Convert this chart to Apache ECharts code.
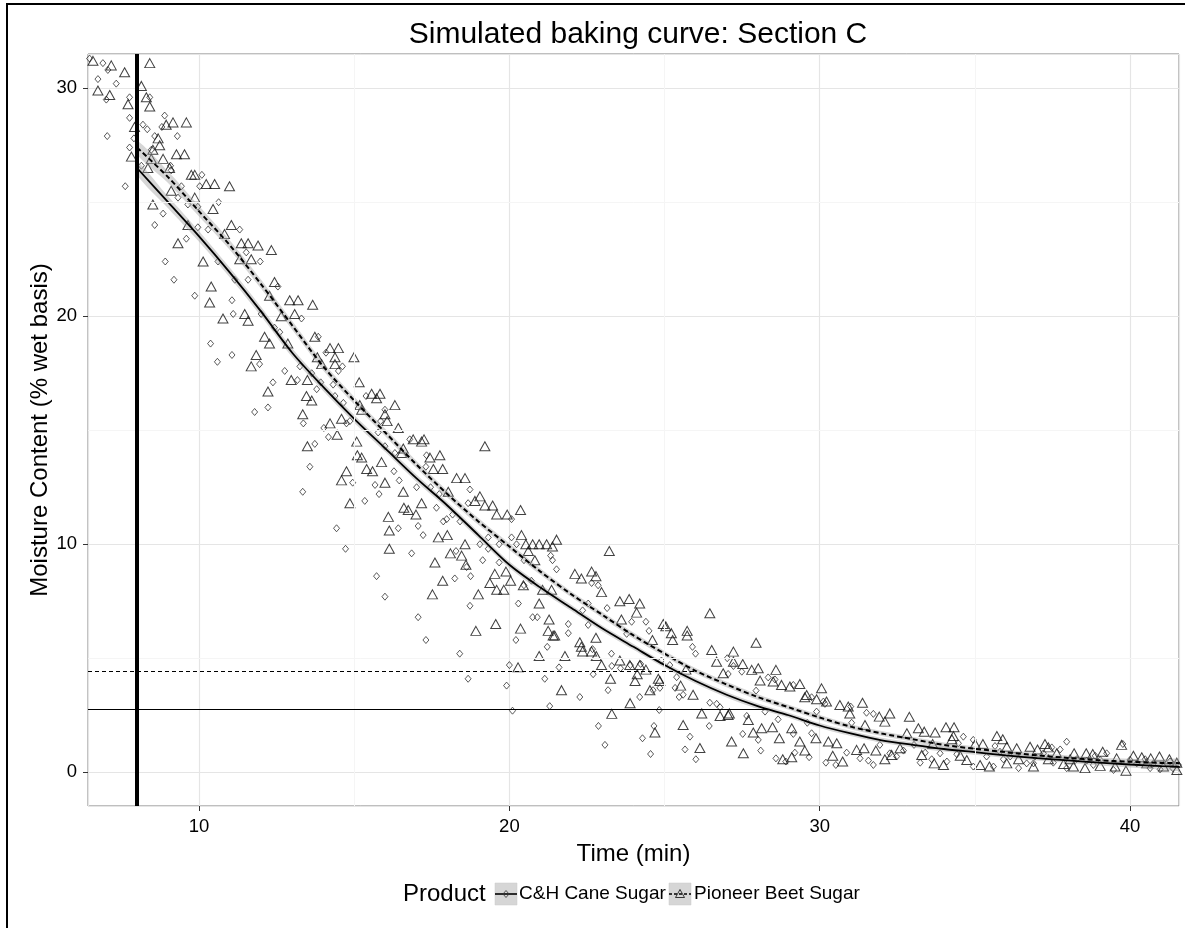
<!DOCTYPE html>
<html>
<head>
<meta charset="utf-8">
<script src="https://cdn.jsdelivr.net/npm/echarts@6/dist/echarts.min.js"></script>
<style>
  html, body { margin: 0; padding: 0; background: #fff; }
  #chart { width: 1185px; height: 928px; }
</style>
</head>
<body>
<div id="chart"></div>
<script>
// point readings, [time (min), moisture (% wet basis)]
const canePoints = [
  [6.47,31.3],[6.9,31.1],[7.06,30.8],[7.33,30.2],[6.74,30.4],[7.01,29.5],[7.76,29.6],[7.76,28.7],[7.04,27.9],[7.76,27.4],
  [7.62,25.7],[7.9,27.8],[8.19,28.4],[8.33,28.2],[8.41,29.6],[8.89,28.8],[8.8,28.3],[9.3,27.9],[8.57,27.9],[8.14,26.6],
  [8.46,27.3],[9.08,26.6],[9.1,26.4],[9.43,25.7],[10.09,26.2],[10.02,25.7],[9.32,25.2],[9.64,24.9],[9.96,24.8],[10.63,25.0],
  [8.84,24.5],[8.57,24.0],[8.91,22.4],[9.19,21.6],[9.86,20.9],[9.59,23.4],[9.96,23.9],[10.29,23.8],[11.31,23.8],[11.52,22.8],
  [11.97,22.4],[10.61,22.4],[11.15,21.6],[11.58,21.6],[12.54,21.3],[11.06,20.7],[11.1,20.1],[12.0,20.1],[12.43,19.5],[12.6,19.3],
  [10.37,18.8],[10.59,18.0],[11.06,18.3],[11.95,17.9],[12.76,17.6],[13.17,17.2],[12.38,17.1],[11.79,15.8],[12.22,16.0],
  [13.3,19.9],[13.84,19.1],[14.09,18.4],[14.49,17.6],[14.62,17.8],[13.63,17.5],[13.79,16.8],[13.25,17.8],[14.32,17.0],[13.92,17.1],
  [14.65,16.2],[14.38,16.5],[14.75,15.3],[14.86,15.4],[13.36,15.3],[14.02,15.1],[14.17,14.7],[13.73,14.4],[13.57,13.4],[13.34,12.3],
  [14.43,10.7],[14.72,9.8],[15.72,8.6],[15.99,7.7],[14.95,12.7],[15.34,11.9],[15.67,12.6],[15.8,12.2],[15.38,16.5],[15.85,15.4],
  [15.99,15.9],[15.77,14.9],[15.99,14.3],[16.31,14.0],[16.79,14.6],[17.33,13.9],[17.31,13.4],[16.28,13.2],[16.45,12.8],[17.01,12.5],
  [17.46,12.5],[17.74,12.2],[17.65,11.6],[17.87,11.0],[17.98,11.1],[18.41,11.0],[18.17,11.3],[17.06,10.8],[17.22,10.4],[16.85,9.6],
  [16.42,10.7],[18.24,8.5],[18.75,8.6],[18.62,9.0],[18.28,9.7],[18.73,12.4],[18.67,11.8],[19.14,9.3],[19.05,10.0],[19.32,10.3],
  [19.32,9.8],[19.67,10.0],[19.67,9.2],[20.07,11.1],[20.07,10.3],[20.23,10.0],[20.47,9.3],[20.71,8.4],[20.47,8.2],[21.33,9.5],
  [21.39,9.3],[21.52,8.9],[18.73,7.3],[20.29,7.4],
  [17.06,6.8],[17.31,5.8],[18.4,5.2],[18.67,4.1],[19.91,3.8],[20.0,4.7],[21.14,4.1],[21.22,5.5],[21.6,4.6],[20.21,5.8],
  [20.75,6.8],[20.9,6.8],[20.1,2.7],[21.3,2.9],
  [22.27,3.3],[21.9,6.1],[22.7,4.3],[23.18,3.6],[23.29,5.2],[22.68,5.4],[23.9,4.7],[24.2,3.3],[24.63,3.6],[24.85,3.7],
  [25.34,3.7],[25.47,3.3],[25.6,3.4],[25.9,5.5],[26.0,5.2],[24.5,6.2],[24.4,6.6],[23.15,7.2],[22.54,7.4],[22.36,7.1],
  [21.9,6.5],[22.65,8.3],[22.86,8.2],[22.54,6.46],[23.3,4.66],[23.58,4.56],[24.23,4.75],[25.17,4.7],[25.39,4.17],[23.78,6.07],
  [23.94,6.6],[24.9,4.9],
  [22.87,2.03],[23.08,1.2],[24.29,1.49],[24.55,0.8],[24.83,2.73],[24.66,2.03],[25.66,1.0],[25.82,1.56],
  [26.01,0.57],[26.44,2.03],[27.02,5.0],[27.22,4.66],[27.49,4.41],[27.05,4.31],[27.95,3.58],[28.34,4.16],[28.56,4.07],[29.15,3.83],
  [29.74,3.29],[30.12,3.1],[30.17,3.0],[31.0,2.88],[31.51,2.61],[31.73,2.56],[26.79,2.85],[26.46,3.05],[26.68,3.0],[27.52,1.68],
  [28.02,1.42],[28.1,0.95],[27.65,2.47],[28.59,0.61],[28.91,0.47],[29.2,0.86],[29.66,0.66],[29.74,1.71],[29.15,1.68],[29.6,2.17],
  [30.2,0.42],[30.52,0.32],[30.87,0.86],[31.3,0.61],[31.57,0.51],[31.73,0.32],[31.94,1.2],[32.26,0.83],[31.03,2.17],[28.66,2.32],
  [28.24,2.66],[29.9,2.66],
  [32.48,0.69],[32.7,0.95],[33.04,1.2],[33.4,0.86],[33.88,0.83],[34.1,0.47],[34.47,1.27],[34.63,1.56],[34.95,1.42],[34.95,0.25],
  [35.38,0.69],[35.65,1.15],[35.81,0.9],[36.14,0.69],[36.41,0.18],[36.67,0.39],[36.94,0.69],[37.21,0.83],[37.48,1.09],[37.75,1.0],
  [37.96,1.34],[37.96,0.18],[38.28,0.57],[38.61,0.51],[38.88,0.72],[39.25,0.83],[39.47,0.1],[39.77,1.24],[40.0,0.54],[40.22,0.39],
  [40.49,0.57],[40.76,0.39],[40.97,0.13],[41.29,0.47],[41.56,0.32],[41.38,0.18],[37.53,0.42],[38.82,0.32],[39.04,0.54],[40.65,0.18],
  [36.89,0.39],[35.6,0.25],[35.92,0.57],[34.42,0.79],[33.24,0.42],[33.61,0.57]
];

const beetPoints = [
  [6.58,31.2],[7.17,31.0],[7.6,30.7],[6.74,29.9],[7.12,29.7],[8.41,31.1],[8.14,30.1],[8.3,29.6],[7.71,29.3],[8.41,29.2],
  [7.92,28.3],[7.82,27.0],[9.16,28.5],[9.59,28.5],[8.94,28.4],[8.68,27.8],[8.73,27.5],[8.51,27.3],[9.27,27.1],[9.53,27.1],
  [8.46,26.9],[8.84,26.9],[9.05,26.5],[8.35,26.5],[9.75,26.2],[9.86,26.2],[10.23,25.8],[10.5,25.8],[10.98,25.7],[9.1,25.5],
  [9.86,25.2],[8.51,24.9],[10.82,23.6],[11.04,24.0],[10.45,24.7],[9.64,24.0],[9.32,23.2],[10.13,22.4],[11.36,23.2],[11.58,23.2],
  [11.9,23.1],[12.33,22.9],[11.31,22.5],[11.68,22.5],[10.39,21.3],[10.34,20.6],[10.77,19.9],[11.47,20.1],[11.58,19.8],[12.27,20.9],
  [12.43,21.5],[12.92,20.7],[13.19,20.7],[12.65,20.0],[13.08,20.1],[12.11,19.1],[12.27,18.8],[12.86,18.8],[11.84,18.3],[11.68,17.8],
  [12.22,16.7],[12.97,17.2],
  [13.66,20.5],[13.73,19.1],[14.22,18.6],[14.49,18.6],[13.81,18.2],[14.38,18.2],[14.99,18.2],[13.95,17.9],[14.38,17.9],[13.49,17.2],
  [13.63,16.3],[13.46,16.5],[13.34,15.7],[15.16,17.1],[15.56,16.6],[15.83,16.6],[15.72,16.4],[15.18,16.1],[15.24,15.9],[16.31,16.1],
  [15.99,15.7],[16.06,15.4],[14.59,15.5],[14.22,15.3],[14.45,14.8],[16.42,15.1],[15.08,14.5],[13.49,14.3],[16.9,14.6],[17.25,14.6],
  [17.17,14.5],[16.58,14.2],[16.53,14.0],[17.44,13.8],[17.76,13.9],[17.55,13.3],[17.85,13.3],[15.1,13.9],[15.24,13.8],[15.4,13.3],
  [15.59,13.2],[15.88,13.6],[14.75,13.2],[14.59,12.8],[15.99,12.7],[14.86,11.8],[16.58,12.3],[18.57,12.9],[18.3,12.9],[19.21,14.3],
  [18.03,12.3],[19.05,12.1],[18.89,11.9],[19.21,11.7],[19.46,11.7],[19.59,11.3],[19.93,11.3],[20.36,11.5],[17.17,11.8],[16.6,11.6],
  [16.74,11.5],[16.99,11.3],[16.1,11.2],[16.13,10.6],[16.13,9.8],[17.71,10.3],[18.0,10.4],[18.57,10.0],[18.1,9.6],[18.46,9.5],
  [18.6,9.1],[17.6,9.2],[17.85,8.4],[17.52,7.8],[19.0,7.8],[19.37,8.3],[19.53,8.7],[19.89,8.8],[20.04,8.4],[19.59,8.0],
  [19.82,8.0],[20.39,10.4],[20.53,10.0],[20.75,10.0],[20.96,10.0],[21.2,10.0],[21.39,9.9],[21.52,10.2],[20.61,9.7],[20.82,9.3],
  [20.96,7.4],[20.45,8.2],[21.07,8.0],[21.36,8.0],
  [18.92,6.2],[19.56,6.5],[20.36,6.3],[20.96,5.1],[20.28,4.6],[21.28,6.7],[21.41,6.0],[21.46,6.0],[21.25,6.2],
  [21.79,5.1],[21.68,3.6],[22.32,5.5],[22.36,5.3],[22.65,5.3],[22.8,5.1],[22.97,4.7],[22.79,5.9],[22.27,5.7],[23.26,4.1],
  [23.56,4.9],[23.88,4.7],[24.12,4.3],[24.2,4.7],[24.4,4.5],[24.61,5.8],[24.85,4.0],[24.8,4.1],[24.53,3.6],[24.05,4.0],
  [25.04,6.4],[24.96,6.5],[25.22,6.1],[25.26,5.8],[25.73,6.2],[25.73,6.0],[25.92,3.4],[25.52,3.8],[25.69,4.5],[22.11,8.7],
  [22.32,8.5],[22.65,8.8],[22.79,8.6],[22.97,7.9],[23.22,9.7],[23.56,7.5],[23.86,7.6],[24.2,7.4],[24.1,7.0],[23.61,6.7],
  [23.3,2.56],[23.89,3.03],[24.69,1.74],[25.6,2.07],
  [26.46,6.97],[26.52,5.36],[27.22,5.29],[26.68,4.85],[26.89,4.34],[27.22,4.85],[27.52,4.75],[27.81,4.49],[28.02,4.56],[27.95,5.68],
  [28.59,4.49],[28.08,4.02],[28.5,3.98],[28.77,3.83],[29.04,3.76],[29.36,3.87],[29.58,3.39],[29.52,3.29],[30.06,3.68],[29.9,3.2],
  [30.22,3.1],[30.65,2.95],[30.92,2.88],[31.38,3.05],[30.97,2.58],[31.46,2.07],[31.92,2.44],[32.26,2.58],[26.79,2.47],[27.05,2.51],
  [27.09,2.58],[26.2,2.58],[27.7,2.29],[28.13,1.93],[28.48,1.97],[27.86,1.74],[28.7,1.49],[29.1,1.93],[29.36,1.35],[27.16,1.35],
  [27.54,0.83],[26.14,1.06],[28.81,0.57],[29.1,0.66],[29.52,0.95],[29.88,1.49],[30.28,1.35],[30.42,0.72],[30.74,0.47],[30.55,1.27],
  [31.19,0.98],[31.43,1.05],[31.81,0.95],[32.1,0.57],[32.1,2.22],
  [32.32,0.76],[32.59,1.05],[32.81,1.71],[32.89,2.43],[33.18,1.93],[33.37,1.78],[33.72,1.74],[34.07,1.97],[34.33,1.97],[34.31,1.59],
  [34.26,1.45],[33.64,1.24],[33.29,0.76],[33.69,0.39],[33.99,0.32],[34.53,0.72],[35.01,1.24],[35.26,1.24],[35.71,1.59],[35.9,1.45],
  [36.03,1.12],[34.74,0.54],[35.17,0.32],[35.47,0.25],[36.35,1.05],[36.78,1.12],[37.02,1.0],[37.26,1.24],[37.37,1.09],[37.64,0.83],
  [36.89,0.25],[37.37,0.57],[37.86,0.36],[38.07,0.57],[38.2,0.83],[38.59,0.83],[38.8,0.8],[39.12,0.9],[39.57,0.61],[39.73,1.2],
  [39.87,0.07],[39.52,0.25],[39.04,0.28],[38.55,0.18],[40.11,0.72],[40.38,0.66],[40.67,0.61],[40.95,0.69],[41.27,0.57],[41.51,0.42],
  [41.51,0.1],[40.54,0.39],[41.08,0.25],[36.03,0.39],[36.41,0.57],[38.18,0.25]
];

// smoothed fits and their standard error
const fitTime = [8,9,10,11,12,13,14,15,16,17,18,19,20,21,22,23,24,25,26,27,28,29,30,31,32,33,34,35,36,37,38,39,40,41,41.6];
const caneFit = [26.5,25.0,23.5,21.9,20.2,18.4,16.9,15.5,14.2,12.9,11.7,10.4,9.1,8.1,7.2,6.3,5.5,4.7,4.0,3.4,2.9,2.5,2.05,1.7,1.4,1.2,1.02,0.88,0.74,0.62,0.52,0.42,0.34,0.27,0.24];
const caneSe  = [0.3,0.26,0.23,0.21,0.2,0.19,0.18,0.17,0.16,0.16,0.15,0.15,0.14,0.14,0.13,0.13,0.13,0.12,0.12,0.12,0.12,0.11,0.11,0.11,0.11,0.11,0.11,0.11,0.11,0.11,0.11,0.12,0.13,0.15,0.17];
const beetFit = [27.4,26.1,24.6,23.1,21.4,19.6,17.8,16.3,14.9,13.5,12.2,11.0,9.9,8.8,7.8,6.9,6.0,5.2,4.45,3.85,3.3,2.85,2.4,2.0,1.7,1.45,1.2,1.03,0.88,0.74,0.63,0.53,0.46,0.41,0.4];
const beetSe  = [0.3,0.26,0.23,0.21,0.2,0.19,0.18,0.17,0.16,0.16,0.15,0.15,0.14,0.14,0.13,0.13,0.13,0.12,0.12,0.12,0.12,0.11,0.11,0.11,0.11,0.11,0.11,0.11,0.11,0.11,0.11,0.12,0.13,0.15,0.17];

// reference lines
const startTime = 8;
const targetMoisture = [2.76, 4.43];   // C&H, Pioneer
const targetTime = [28.35, 26.0];

const xRange = [6.42, 41.58];
const yRange = [-1.48, 31.5];
const minorX = [15, 25, 35];
const minorY = [5, 15, 25];

const FONT = "'Liberation Sans', Arial, sans-serif";

const zip = (xs, ys) => xs.map((x, i) => [x, ys[i]]);

const bandSeries = (name, fit, se) => ({
  name: name,
  type: "custom",
  silent: true,
  clip: true,
  z: 3,
  data: [[fitTime[0], fit[0]]],
  renderItem: (params, api) => {
    const pts = [];
    for (let i = 0; i < fitTime.length; i++) pts.push(api.coord([fitTime[i], fit[i] + se[i]]));
    for (let i = fitTime.length - 1; i >= 0; i--) pts.push(api.coord([fitTime[i], fit[i] - se[i]]));
    return {
      type: "polygon",
      shape: { points: pts, smooth: 0.3 },
      style: { fill: "rgba(153,153,153,0.4)", stroke: null },
    };
  },
});

const chart = echarts.init(document.getElementById("chart"), null, { renderer: "canvas" });

const axisCommon = {
  type: "value",
  splitNumber: 3,
  nameLocation: "middle",
  nameMoveOverlap: false,
  nameTextStyle: { fontSize: 24, color: "#000", fontFamily: FONT },
  axisLine: { show: false, onZero: false },
  axisTick: { show: true, length: 5, lineStyle: { color: "#333" } },
  splitLine: { lineStyle: { color: "#e5e5e5", width: 1.2 } },
};

const option = {
  animation: false,
  backgroundColor: "#fff",
  textStyle: { fontFamily: FONT },
  title: {
    text: "Simulated baking curve: Section C",
    left: 633,
    textAlign: "center",
    top: 15,
    textStyle: { fontSize: 30, fontWeight: "normal", color: "#000", fontFamily: FONT },
  },
  grid: {
    left: 88,
    top: 54,
    right: 6,
    bottom: 122,
    show: true,
    borderColor: "#7f7f7f",
    borderWidth: 1,
    backgroundColor: "#fff",
  },
  xAxis: Object.assign({}, axisCommon, {
    min: xRange[0],
    max: xRange[1],
    name: "Time (min)",
    nameGap: 36,
    axisLabel: { showMinLabel: false, showMaxLabel: false, fontSize: 18.5, color: "#000", margin: 11, fontFamily: FONT },
  }),
  yAxis: Object.assign({}, axisCommon, {
    min: yRange[0],
    max: yRange[1],
    name: "Moisture Content (% wet basis)",
    nameGap: 36,
    axisLabel: { showMinLabel: false, showMaxLabel: false, fontSize: 18.5, color: "#000", margin: 11, fontFamily: FONT },
  }),
  series: [
    {
      name: "minor grid",
      type: "scatter",
      data: [],
      silent: true,
      z: 1,
      markLine: {
        silent: true,
        symbol: "none",
        label: { show: false },
        lineStyle: { color: "#f5f5f5", width: 1, type: "solid" },
        data: minorX.map((v) => ({ xAxis: v })).concat(minorY.map((v) => ({ yAxis: v }))),
      },
    },
    {
      name: "C&H Cane Sugar",
      type: "scatter",
      data: canePoints,
      symbol: "diamond",
      symbolSize: [6, 7],
      z: 2,
      itemStyle: { color: "rgba(0,0,0,0)", borderColor: "#1a1a1a", borderWidth: 0.9 },
    },
    {
      name: "Pioneer Beet Sugar",
      type: "scatter",
      data: beetPoints,
      symbol: "triangle",
      symbolSize: [10, 9],
      z: 2,
      itemStyle: { color: "rgba(0,0,0,0)", borderColor: "#111", borderWidth: 1 },
    },
    bandSeries("cane band", caneFit, caneSe),
    bandSeries("beet band", beetFit, beetSe),
    {
      name: "cane fit",
      type: "line",
      data: zip(fitTime, caneFit),
      smooth: 0.3,
      showSymbol: false,
      z: 4,
      lineStyle: { color: "#000", width: 1.8 },
    },
    {
      name: "beet fit",
      type: "line",
      data: zip(fitTime, beetFit),
      smooth: 0.3,
      showSymbol: false,
      z: 4,
      lineStyle: { color: "#000", width: 2, type: [5, 3] },
    },
    {
      name: "reference",
      type: "scatter",
      data: [],
      silent: true,
      z: 6,
      markLine: {
        silent: true,
        symbol: "none",
        label: { show: false },
        data: [
          { xAxis: startTime, lineStyle: { color: "#000", width: 4, type: "solid" } },
          [
            { coord: [xRange[0], targetMoisture[0]], lineStyle: { color: "#000", width: 1.2, type: "solid" } },
            { coord: [targetTime[0], targetMoisture[0]] },
          ],
          [
            { coord: [xRange[0], targetMoisture[1]], lineStyle: { color: "#000", width: 1.2, type: [4, 3] } },
            { coord: [targetTime[1], targetMoisture[1]] },
          ],
        ],
      },
    },
  ],
  graphic: [
    {
      type: "rect",
      silent: true,
      shape: { x: 7, y: 4, width: 1200, height: 940 },
      style: { fill: "none", stroke: "#000", lineWidth: 2 },
    },
    {
      type: "text",
      x: 403,
      y: 894,
      style: { text: "Product", font: "24px " + FONT, fill: "#000", verticalAlign: "middle" },
    },
    { type: "rect", shape: { x: 495, y: 883, width: 22, height: 22 }, style: { fill: "#d6d6d6", stroke: "#c8c8c8", lineWidth: 0.5 } },
    { type: "line", shape: { x1: 495, y1: 894, x2: 517, y2: 894 }, style: { stroke: "#000", lineWidth: 1.6 } },
    { type: "polygon", shape: { points: [[506, 890.5], [509, 894], [506, 897.5], [503, 894]] }, style: { fill: "none", stroke: "#333", lineWidth: 0.8 } },
    {
      type: "text",
      x: 519,
      y: 894,
      style: { text: "C&H Cane Sugar", font: "19px " + FONT, fill: "#000", verticalAlign: "middle" },
    },
    { type: "rect", shape: { x: 669, y: 883, width: 22, height: 22 }, style: { fill: "#d6d6d6", stroke: "#c8c8c8", lineWidth: 0.5 } },
    { type: "line", shape: { x1: 669, y1: 894, x2: 691, y2: 894 }, style: { stroke: "#000", lineWidth: 1.6, lineDash: [3, 2] } },
    { type: "polygon", shape: { points: [[680, 889.5], [684.5, 897.5], [675.5, 897.5]] }, style: { fill: "none", stroke: "#222", lineWidth: 0.9 } },
    {
      type: "text",
      x: 694,
      y: 894,
      style: { text: "Pioneer Beet Sugar", font: "19px " + FONT, fill: "#000", verticalAlign: "middle" },
    },
  ],
};

chart.setOption(option);
window.addEventListener("resize", () => chart.resize());
</script>
</body>
</html>
